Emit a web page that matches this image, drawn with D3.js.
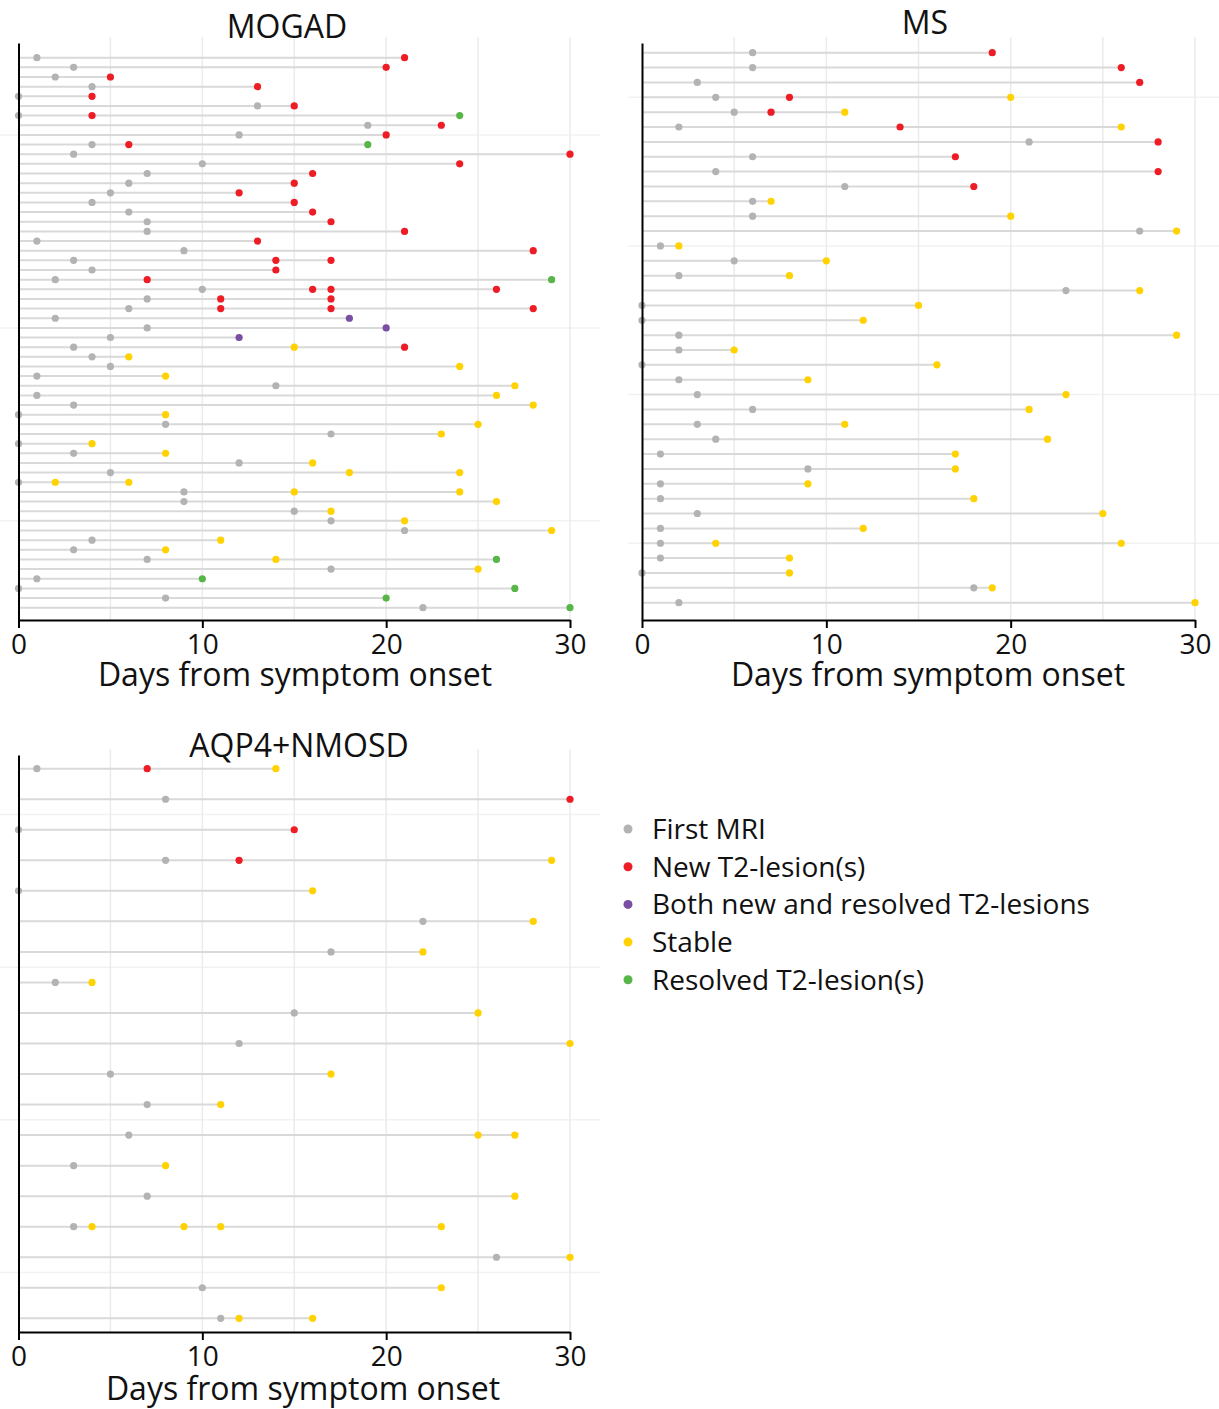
<!DOCTYPE html>
<html>
<head>
<meta charset="utf-8">
<script src="https://cdn.jsdelivr.net/npm/d3@7"></script>
<style>
  body { margin: 0; background: #fff; }
  text { font-family: "Open Sans", sans-serif; fill: #111; }
</style>
</head>
<body>
<svg id="chart" width="1219" height="1409"></svg>
<script>
// MRI result categories
const statusKeys = ["F", "N", "B", "S", "R"];
const statusLabels = ["First MRI", "New T2-lesion(s)", "Both new and resolved T2-lesions", "Stable", "Resolved T2-lesion(s)"];
const statusColors = ["#b3b3b3", "#ee1c25", "#7a4ea3", "#ffd200", "#58b547"];
const xTicks = [0, 10, 20, 30];

// one entry per patient, top to bottom: [day, status]
const mogadVisits = [
  [[1,"F"],[21,"N"]], [[3,"F"],[20,"N"]], [[2,"F"],[5,"N"]], [[4,"F"],[13,"N"]],
  [[0,"F"],[4,"N"]], [[13,"F"],[15,"N"]], [[0,"F"],[4,"N"],[24,"R"]], [[19,"F"],[23,"N"]],
  [[12,"F"],[20,"N"]], [[4,"F"],[6,"N"],[19,"R"]], [[3,"F"],[30,"N"]], [[10,"F"],[24,"N"]],
  [[7,"F"],[16,"N"]], [[6,"F"],[15,"N"]], [[5,"F"],[12,"N"]], [[4,"F"],[15,"N"]],
  [[6,"F"],[16,"N"]], [[7,"F"],[17,"N"]], [[7,"F"],[21,"N"]], [[1,"F"],[13,"N"]],
  [[9,"F"],[28,"N"]], [[3,"F"],[14,"N"],[17,"N"]], [[4,"F"],[14,"N"]], [[2,"F"],[7,"N"],[29,"R"]],
  [[10,"F"],[16,"N"],[17,"N"],[26,"N"]], [[7,"F"],[11,"N"],[17,"N"]], [[6,"F"],[11,"N"],[17,"N"],[28,"N"]],
  [[2,"F"],[18,"B"]], [[7,"F"],[20,"B"]], [[5,"F"],[12,"B"]], [[3,"F"],[15,"S"],[21,"N"]],
  [[4,"F"],[6,"S"]], [[5,"F"],[24,"S"]], [[1,"F"],[8,"S"]], [[14,"F"],[27,"S"]],
  [[1,"F"],[26,"S"]], [[3,"F"],[28,"S"]], [[0,"F"],[8,"S"]], [[8,"F"],[25,"S"]],
  [[17,"F"],[23,"S"]], [[0,"F"],[4,"S"]], [[3,"F"],[8,"S"]], [[12,"F"],[16,"S"]],
  [[5,"F"],[18,"S"],[24,"S"]], [[0,"F"],[2,"S"],[6,"S"]], [[9,"F"],[15,"S"],[24,"S"]],
  [[9,"F"],[26,"S"]], [[15,"F"],[17,"S"]], [[17,"F"],[21,"S"]], [[21,"F"],[29,"S"]],
  [[4,"F"],[11,"S"]], [[3,"F"],[8,"S"]], [[7,"F"],[14,"S"],[26,"R"]], [[17,"F"],[25,"S"]],
  [[1,"F"],[10,"R"]], [[0,"F"],[27,"R"]], [[8,"F"],[20,"R"]], [[22,"F"],[30,"R"]]
];

const msVisits = [
  [[6,"F"],[19,"N"]], [[6,"F"],[26,"N"]], [[3,"F"],[27,"N"]], [[4,"F"],[8,"N"],[20,"S"]],
  [[5,"F"],[7,"N"],[11,"S"]], [[2,"F"],[14,"N"],[26,"S"]], [[21,"F"],[28,"N"]], [[6,"F"],[17,"N"]],
  [[4,"F"],[28,"N"]], [[11,"F"],[18,"N"]], [[6,"F"],[7,"S"]], [[6,"F"],[20,"S"]],
  [[27,"F"],[29,"S"]], [[1,"F"],[2,"S"]], [[5,"F"],[10,"S"]], [[2,"F"],[8,"S"]],
  [[23,"F"],[27,"S"]], [[0,"F"],[15,"S"]], [[0,"F"],[12,"S"]], [[2,"F"],[29,"S"]],
  [[2,"F"],[5,"S"]], [[0,"F"],[16,"S"]], [[2,"F"],[9,"S"]], [[3,"F"],[23,"S"]],
  [[6,"F"],[21,"S"]], [[3,"F"],[11,"S"]], [[4,"F"],[22,"S"]], [[1,"F"],[17,"S"]],
  [[9,"F"],[17,"S"]], [[1,"F"],[9,"S"]], [[1,"F"],[18,"S"]], [[3,"F"],[25,"S"]],
  [[1,"F"],[12,"S"]], [[1,"F"],[4,"S"],[26,"S"]], [[1,"F"],[8,"S"]], [[0,"F"],[8,"S"]],
  [[18,"F"],[19,"S"]], [[2,"F"],[30,"S"]]
];

const aqp4Visits = [
  [[1,"F"],[7,"N"],[14,"S"]], [[8,"F"],[30,"N"]], [[0,"F"],[15,"N"]], [[8,"F"],[12,"N"],[29,"S"]],
  [[0,"F"],[16,"S"]], [[22,"F"],[28,"S"]], [[17,"F"],[22,"S"]], [[2,"F"],[4,"S"]],
  [[15,"F"],[25,"S"]], [[12,"F"],[30,"S"]], [[5,"F"],[17,"S"]], [[7,"F"],[11,"S"]],
  [[6,"F"],[25,"S"],[27,"S"]], [[3,"F"],[8,"S"]], [[7,"F"],[27,"S"]],
  [[3,"F"],[4,"S"],[9,"S"],[11,"S"],[23,"S"]], [[26,"F"],[30,"S"]], [[10,"F"],[23,"S"]],
  [[11,"F"],[12,"S"],[16,"S"]]
];

const color = d3.scaleOrdinal().domain(statusKeys).range(statusColors);
const svg = d3.select("#chart");

svg.append("rect").attr("width", 1219).attr("height", 1409).attr("fill", "#fff");

// panel layout
const panels = [
  { title: "MOGAD", rows: mogadVisits, x0: 18.5, x1: 570, yFirst: 57.7, yLast: 607.7,
    top: 43, bottom: 620, gridLeft: 0, gridRight: 600, titleX: 287, titleY: 38,
    tickY: 654, labelX: 295, labelY: 686 },
  { title: "MS", rows: msVisits, x0: 642, x1: 1195, yFirst: 52.7, yLast: 602.7,
    top: 43, bottom: 620, gridLeft: 628, gridRight: 1219, titleX: 925, titleY: 34,
    tickY: 654, labelX: 928, labelY: 686 },
  { title: "AQP4+NMOSD", rows: aqp4Visits, x0: 18.5, x1: 570, yFirst: 768.7, yLast: 1318.3,
    top: 755, bottom: 1332, gridLeft: 0, gridRight: 600, titleX: 299, titleY: 757,
    tickY: 1366, labelX: 303, labelY: 1400 }
];

panels.forEach(drawPanel);

function drawPanel(p) {
  const n = p.rows.length;
  const x = d3.scaleLinear().domain([0, 30]).range([p.x0, p.x1]);
  // patient ids run bottom (1) to top (n)
  const y = d3.scaleLinear().domain([n, 1]).range([p.yFirst, p.yLast]);
  const g = svg.append("g");

  // faint horizontal grid between y breaks
  const step = d3.tickStep(1, n, 4);
  g.selectAll(".hgrid")
    .data(d3.range(step / 2, n, step))
    .join("line")
    .attr("x1", p.gridLeft).attr("x2", p.gridRight)
    .attr("y1", d => y(d)).attr("y2", d => y(d))
    .attr("stroke", "#f2f2f2").attr("stroke-width", 1.5);

  // vertical grid
  g.selectAll(".vgrid")
    .data(d3.range(5, 31, 5))
    .join("line")
    .attr("x1", d => x(d)).attr("x2", d => x(d))
    .attr("y1", p.top - 6).attr("y2", p.bottom)
    .attr("stroke", "#ebebeb").attr("stroke-width", 1.5);

  const rows = p.rows.map((visits, i) => ({ id: n - i, visits }));

  // follow-up segment from onset to last MRI
  g.selectAll(".seg")
    .data(rows)
    .join("line")
    .attr("x1", x(0))
    .attr("x2", d => x(d3.max(d.visits, v => v[0])))
    .attr("y1", d => y(d.id)).attr("y2", d => y(d.id))
    .attr("stroke", "#d9d9d9").attr("stroke-width", 2);

  // MRI dots
  const dots = rows.flatMap(r => r.visits.map(v => ({ id: r.id, day: v[0], status: v[1] })));
  g.selectAll(".dot")
    .data(dots)
    .join("circle")
    .attr("cx", d => x(d.day))
    .attr("cy", d => y(d.id))
    .attr("r", 3.6)
    .attr("fill", d => color(d.status));

  // x axis
  const xAxis = g.append("g")
    .attr("transform", "translate(0," + p.bottom + ")")
    .call(d3.axisBottom(x).tickValues(xTicks).tickSize(8).tickSizeOuter(0).tickPadding(7));
  xAxis.select(".domain").attr("stroke", "#000").attr("stroke-width", 2);
  xAxis.selectAll(".tick line").attr("stroke", "#000").attr("stroke-width", 2);
  xAxis.selectAll(".tick text")
    .attr("font-family", "Open Sans, sans-serif")
    .attr("font-size", 28)
    .attr("fill", "#111")
    .attr("y", null).attr("dy", null)
    .attr("transform", "translate(0," + (p.tickY - p.bottom) + ")");

  // y axis (line only)
  const yAxisScale = d3.scaleLinear().range([p.top, p.bottom]);
  const yAxis = g.append("g")
    .attr("transform", "translate(" + x(0) + ",0)")
    .call(d3.axisLeft(yAxisScale).tickValues([]).tickSizeOuter(0));
  yAxis.select(".domain").attr("stroke", "#000").attr("stroke-width", 2);

  g.append("text")
    .attr("x", p.titleX).attr("y", p.titleY)
    .attr("text-anchor", "middle")
    .attr("font-size", 32)
    .text(p.title);

  g.append("text")
    .attr("x", p.labelX).attr("y", p.labelY)
    .attr("text-anchor", "middle")
    .attr("font-size", 32)
    .text("Days from symptom onset");
}

// legend
const legend = svg.append("g").attr("transform", "translate(628,829)");
const item = legend.selectAll(".item")
  .data(statusKeys)
  .join("g")
  .attr("transform", (d, i) => "translate(0," + i * 37.7 + ")");
item.append("circle").attr("r", 4.5).attr("fill", d => color(d));
item.append("text")
  .attr("x", 24).attr("y", 10)
  .attr("font-size", 28)
  .text((d, i) => statusLabels[i]);
</script>
</body>
</html>
